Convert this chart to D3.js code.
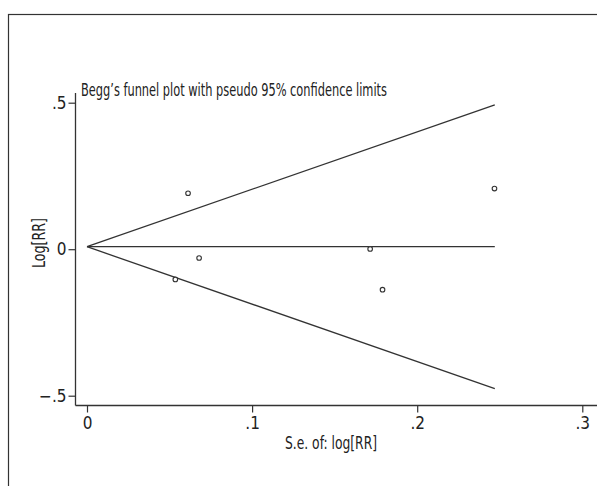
<!DOCTYPE html>
<html>
<head>
<meta charset="utf-8">
<script src="https://cdn.jsdelivr.net/npm/d3@7"></script>
<style>
  body { margin: 0; background: #fff; }
  text { font-family: "Liberation Sans Narrow", "DejaVu Sans Condensed", "Roboto", sans-serif; fill: #222; }
</style>
</head>
<body>
<div id="chart"></div>
<script>
// study points: standard error of log RR and log RR
const SE_VALUES = [0.0535, 0.0612, 0.0679, 0.1715, 0.179, 0.2468];
const LOGRR_VALUES = [-0.103, 0.191, -0.030, 0.001, -0.138, 0.207];
const POOLED = 0.0085;
const SE_MAX = 0.247;
const X_TICKS = [0, 0.1, 0.2, 0.3];
const X_TICK_LABELS = ["0", ".1", ".2", ".3"];
const Y_TICKS = [-0.5, 0, 0.5];
const Y_TICK_LABELS = ["\u2212.5", "0", ".5"];
const TITLE = "Begg\u2019s funnel plot with pseudo 95% confidence limits";
const X_LABEL = "S.e. of: log[RR]";
const Y_LABEL = "Log[RR]";

const SVG_WIDTH = 597;
const SVG_HEIGHT = 486;
const LINE_COLOR = "#333333";

const svg = d3.select("#chart")
  .append("svg")
  .attr("width", SVG_WIDTH)
  .attr("height", SVG_HEIGHT);

// outer frame (cropped on right and bottom)
svg.append("rect")
  .attr("x", 8.5).attr("y", 14.5)
  .attr("width", 700).attr("height", 600)
  .attr("fill", "none")
  .attr("stroke", LINE_COLOR)
  .attr("stroke-width", 1.2);

const xScale = d3.scaleLinear().domain([0, 0.3]).range([87, 582.3]);
const yScale = d3.scaleLinear().domain([-0.5, 0.5]).range([395.7, 102.7]);

const AXIS_LEFT = 75.5;
const AXIS_BOTTOM = 405.5;
const AXIS_TOP = 93;

// axis lines
svg.append("line")
  .attr("x1", AXIS_LEFT).attr("x2", AXIS_LEFT)
  .attr("y1", AXIS_TOP).attr("y2", AXIS_BOTTOM)
  .attr("stroke", LINE_COLOR).attr("stroke-width", 1.3);
svg.append("line")
  .attr("x1", AXIS_LEFT).attr("x2", SVG_WIDTH + 5)
  .attr("y1", AXIS_BOTTOM).attr("y2", AXIS_BOTTOM)
  .attr("stroke", LINE_COLOR).attr("stroke-width", 1.3);

// y axis ticks
const yAxis = svg.append("g")
  .attr("class", "y-axis")
  .attr("transform", `translate(${AXIS_LEFT},0)`)
  .call(d3.axisLeft(yScale).tickValues(Y_TICKS)
    .tickFormat((d, i) => Y_TICK_LABELS[i]).tickSize(7).tickPadding(2));
yAxis.select(".domain").remove();

// x axis ticks
const xAxis = svg.append("g")
  .attr("class", "x-axis")
  .attr("transform", `translate(0,${AXIS_BOTTOM})`)
  .call(d3.axisBottom(xScale).tickValues(X_TICKS)
    .tickFormat((d, i) => X_TICK_LABELS[i]).tickSize(7).tickPadding(4));
xAxis.select(".domain").remove();

svg.selectAll(".tick line")
  .style("stroke", LINE_COLOR)
  .style("stroke-width", 1.2);
svg.selectAll(".tick text")
  .attr("font-family", null)
  .attr("font-size", null)
  .style("font-size", "17px")
  .style("fill", "#222");

// funnel: pooled line and pseudo 95% limits
const funnel = [
  [[0, POOLED], [SE_MAX, POOLED]],
  [[0, POOLED], [SE_MAX, POOLED + 1.96 * SE_MAX]],
  [[0, POOLED], [SE_MAX, POOLED - 1.96 * SE_MAX]]
];
const d3line = d3.line()
  .x(d => xScale(d[0]))
  .y(d => yScale(d[1]));
svg.append("g").selectAll("path")
  .data(funnel)
  .enter()
  .append("path")
  .attr("d", d3line)
  .attr("fill", "none")
  .attr("stroke", LINE_COLOR)
  .attr("stroke-width", 1.3);

// study points
svg.append("g").selectAll("circle")
  .data(SE_VALUES)
  .enter()
  .append("circle")
  .attr("cx", d => xScale(d))
  .attr("cy", (d, i) => yScale(LOGRR_VALUES[i]))
  .attr("r", 2.3)
  .attr("fill", "#fff")
  .attr("stroke", LINE_COLOR)
  .attr("stroke-width", 1.1);

// title
svg.append("text")
  .attr("x", 81)
  .attr("y", 96)
  .attr("textLength", 306)
  .attr("lengthAdjust", "spacingAndGlyphs")
  .style("font-size", "17px")
  .text(TITLE);

// x label
svg.append("text")
  .attr("x", 331)
  .attr("y", 449)
  .attr("text-anchor", "middle")
  .attr("textLength", 92)
  .attr("lengthAdjust", "spacingAndGlyphs")
  .style("font-size", "17px")
  .text(X_LABEL);

// y label
svg.append("text")
  .attr("transform", "translate(45,243) rotate(-90)")
  .attr("text-anchor", "middle")
  .attr("textLength", 50)
  .attr("lengthAdjust", "spacingAndGlyphs")
  .style("font-size", "17px")
  .text(Y_LABEL);
</script>
</body>
</html>
